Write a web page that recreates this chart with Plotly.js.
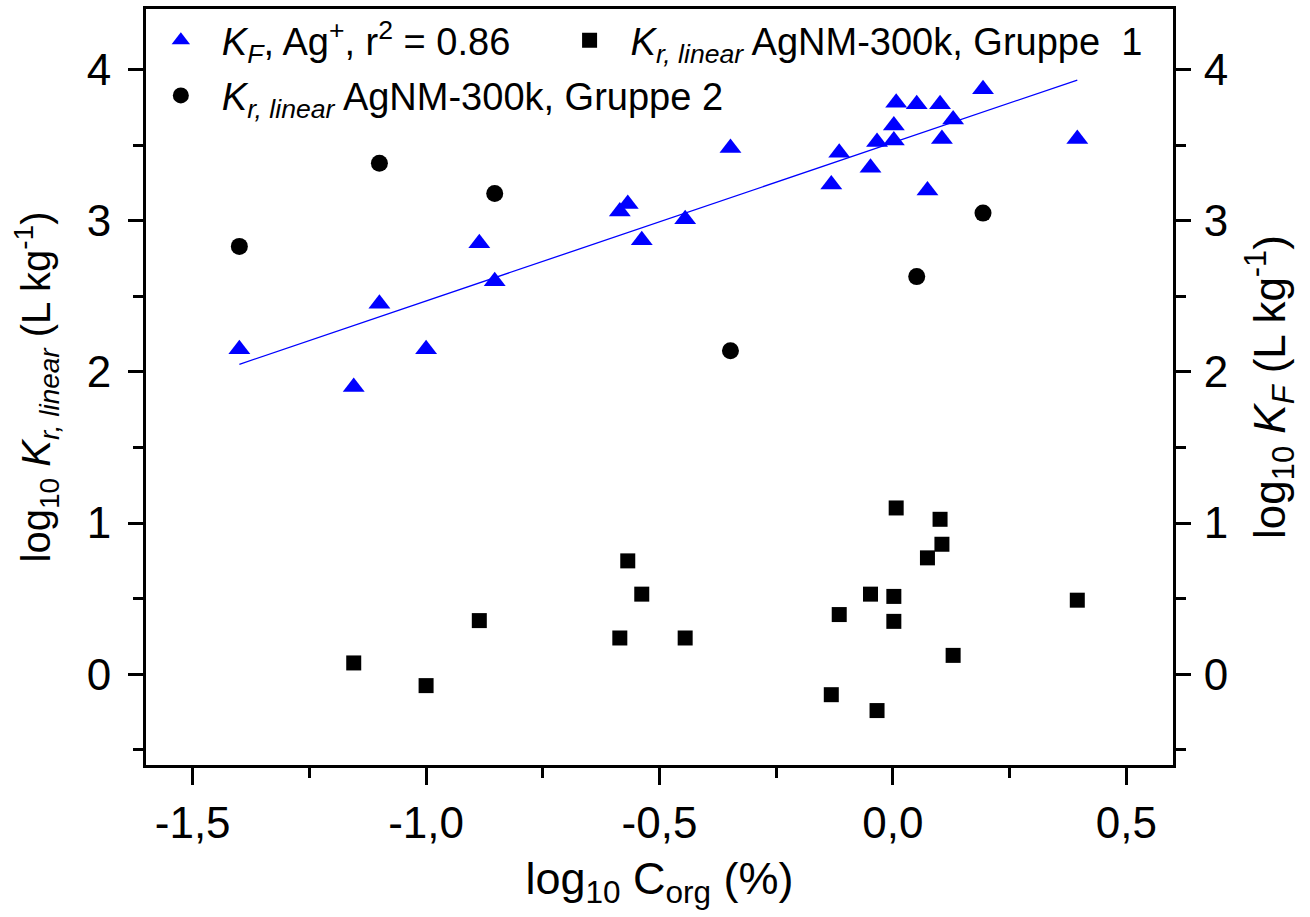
<!DOCTYPE html>
<html>
<head>
<meta charset="utf-8">
<script src="https://cdn.plot.ly/plotly-3.0.1.min.js"></script>
<style>html,body{margin:0;padding:0;background:#fff;}#chart{width:1310px;height:917px;}</style>
</head>
<body>
<div id="chart"></div>
<script>
// log10 Corg (%) for the K_F (Ag+) samples
const kfX = [-1.40, -1.155, -1.10, -1.00, -0.886, -0.853, -0.585, -0.568, -0.538, -0.445, -0.348, -0.132, -0.115, -0.048, -0.034, 0.002, 0.002, 0.007, 0.051, 0.074, 0.101, 0.105, 0.129, 0.193, 0.395];
const kfY = [2.15, 1.90, 2.45, 2.15, 2.85, 2.60, 3.06, 3.11, 2.87, 3.01, 3.48, 3.24, 3.45, 3.35, 3.52, 3.53, 3.63, 3.78, 3.77, 3.20, 3.77, 3.54, 3.67, 3.87, 3.54];
// Gruppe 1
const g1X = [-1.155, -1.00, -0.886, -0.585, -0.568, -0.538, -0.445, -0.132, -0.115, -0.048, -0.034, 0.002, 0.002, 0.007, 0.074, 0.101, 0.105, 0.129, 0.395];
const g1Y = [0.075, -0.075, 0.355, 0.24, 0.75, 0.53, 0.24, -0.135, 0.395, 0.53, -0.24, 0.515, 0.35, 1.10, 0.77, 1.025, 0.86, 0.125, 0.49];
// Gruppe 2
const g2X = [-1.40, -1.10, -0.853, -0.348, 0.051, 0.193];
const g2Y = [2.83, 3.38, 3.18, 2.14, 2.63, 3.05];
// regression line for K_F
const fitX = [-1.40, 0.395];
const fitY = [2.05, 3.93];

const xTickVals = [-1.5, -1.0, -0.5, 0.0, 0.5];
const xTickText = ['-1,5', '-1,0', '-0,5', '0,0', '0,5'];
const yTickVals = [0, 1, 2, 3, 4];

const FONT = 'Liberation Sans, Arial, sans-serif';
const LEG_FONT = {family: FONT, size: 38, color: '#000'};

const traces = [
  {x: kfX, y: kfY, yaxis: 'y2', type: 'scatter', mode: 'markers',
   name: '<i>K</i><sub><i>F</i></sub>, Ag<sup>+</sup>, r<sup>2</sup> = 0.86',
   marker: {symbol: 'triangle-up', size: 19, color: '#0000ff'}, legend: 'legend'},
  {x: g1X, y: g1Y, type: 'scatter', mode: 'markers',
   name: '<i>K</i><sub><i>r, linear</i></sub> AgNM-300k, Gruppe&nbsp;&nbsp;1',
   marker: {symbol: 'square', size: 15, color: '#000000'}, legend: 'legend3'},
  {x: g2X, y: g2Y, type: 'scatter', mode: 'markers',
   name: '<i>K</i><sub><i>r, linear</i></sub> AgNM-300k, Gruppe 2',
   marker: {symbol: 'circle', size: 17, color: '#000000'}, legend: 'legend2'},
  {x: fitX, y: fitY, yaxis: 'y2', type: 'scatter', mode: 'lines',
   line: {color: '#0000ff', width: 1.3}, showlegend: false, hoverinfo: 'skip'}
];

const axisCommon = {
  showgrid: false, zeroline: false, showline: true, linecolor: '#000', linewidth: 3,
  ticks: 'outside', ticklen: 15, tickwidth: 3, tickcolor: '#000',
  tickfont: {family: FONT, size: 44, color: '#000'}
};

const legCommon = {
  orientation: 'h', xanchor: 'left', yanchor: 'top',
  bgcolor: 'rgba(0,0,0,0)', borderwidth: 0, font: LEG_FONT, itemwidth: 72
};

const layout = {
  width: 1310, height: 917,
  margin: {l: 146, r: 137, t: 9, b: 152},
  paper_bgcolor: '#fff', plot_bgcolor: '#fff',
  font: {family: FONT, color: '#000'},
  xaxis: Object.assign({}, axisCommon, {
    range: [-1.6, 0.6], tickvals: xTickVals, ticktext: xTickText, mirror: true,
    ticklen: 17,
    minor: {dtick: 0.25, tick0: 0, ticks: 'outside', ticklen: 10, tickwidth: 3, tickcolor: '#000'},
    ticklabelstandoff: 0,
    title: {text: 'log<sub>10</sub> C<sub>org</sub> (%)', font: {family: FONT, size: 45}, standoff: 17}
  }),
  yaxis: Object.assign({}, axisCommon, {
    range: [-0.6, 4.4], tickvals: yTickVals,
    minor: {dtick: 0.5, tick0: 0, ticks: 'outside', ticklen: 10, tickwidth: 3, tickcolor: '#000'},
    ticklabelstandoff: 8,
    title: {text: 'log<sub>10</sub> <i>K</i><sub><i>r, linear</i></sub> (L kg<sup>-1</sup>)', font: {family: FONT, size: 40}, standoff: 24}
  }),
  yaxis2: Object.assign({}, axisCommon, {
    range: [-0.6, 4.4], tickvals: yTickVals, overlaying: 'y', side: 'right',
    minor: {dtick: 0.5, tick0: 0, ticks: 'outside', ticklen: 10, tickwidth: 3, tickcolor: '#000'},
    ticklabelstandoff: 4,
    title: {text: 'log<sub>10</sub> <i>K</i><sub><i>F</i></sub> (L kg<sup>-1</sup>)', font: {family: FONT, size: 44}, standoff: 27}
  }),
  legend: Object.assign({}, legCommon, {x: -0.006, y: 1.0}),
  legend3: Object.assign({}, legCommon, {x: 0.392, y: 1.0}),
  legend2: Object.assign({}, legCommon, {x: -0.006, y: 0.927}),
  showlegend: true
};

Plotly.newPlot('chart', traces, layout, {displayModeBar: false, staticPlot: true});
</script>
</body>
</html>
